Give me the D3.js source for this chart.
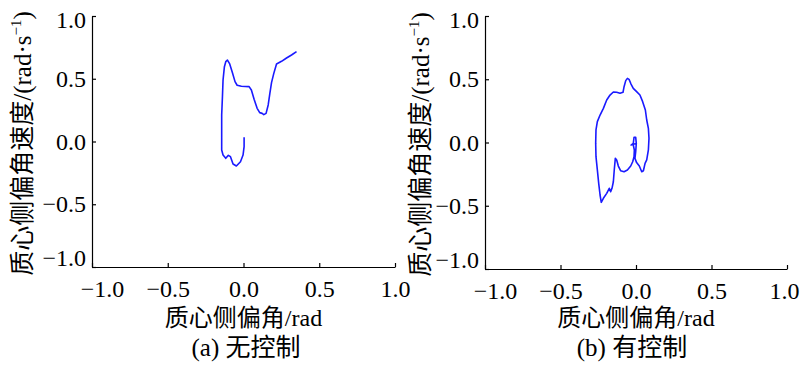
<!DOCTYPE html>
<html>
<head>
<meta charset="utf-8">
<title>Phase plane</title>
<script src="https://d3js.org/d3.v7.min.js"></script>
<style>
  body { margin: 0; background: #fff; }
  svg { display: block; }
</style>
</head>
<body>
<div id="chart"></div>
<script>
// tick values shared by both panels
const ticks = [-1.0, -0.5, 0.0, 0.5, 1.0];

// (a) 无控制: sideslip angle (rad) vs sideslip rate (rad/s)
const betaNoCtrl = [0.004, 0.004, -0.003, -0.020, -0.047, -0.069, -0.086, -0.100, -0.117, -0.135,
  -0.144, -0.144, -0.144, -0.139, -0.135, -0.126, -0.117, -0.106, -0.091, -0.073,
  -0.056, -0.042, -0.014, 0.037, 0.052, 0.070, 0.090, 0.107, 0.123, 0.134,
  0.149, 0.163, 0.174, 0.185, 0.200, 0.218, 0.251, 0.284, 0.317, 0.350];
const rateNoCtrl = [0.033, -0.041, -0.108, -0.161, -0.195, -0.179, -0.121, -0.110, -0.134, -0.108,
  -0.068, 0.065, 0.211, 0.357, 0.490, 0.596, 0.636, 0.649, 0.618, 0.548,
  0.477, 0.448, 0.440, 0.437, 0.410, 0.336, 0.264, 0.230, 0.224, 0.214,
  0.224, 0.291, 0.384, 0.469, 0.543, 0.618, 0.639, 0.665, 0.689, 0.716];

// (b) 有控制
const betaCtrl = [0.000, -0.033, -0.018, -0.013, -0.002, 0.002, -0.002, -0.007, 0.004, 0.022,
  0.038, 0.049, 0.060, 0.071, 0.082, 0.086, 0.082, 0.071, 0.062, 0.044,
  0.026, 0.004, -0.018, -0.033, -0.046, -0.057, -0.068, -0.079, -0.086, -0.106,
  -0.128, -0.150, -0.172, -0.194, -0.216, -0.238, -0.256, -0.265, -0.267, -0.265,
  -0.256, -0.247, -0.238, -0.230, -0.216, -0.194, -0.177, -0.168, -0.159, -0.150,
  -0.144, -0.137, -0.128, -0.117, -0.102, -0.079, -0.057, -0.035, -0.022, -0.013,
  -0.011, -0.018];
const rateCtrl = [-0.007, -0.020, -0.007, 0.041, 0.041, -0.007, -0.072, -0.125, -0.159, -0.186,
  -0.231, -0.223, -0.165, -0.138, -0.059, 0.033, 0.112, 0.178, 0.257, 0.323,
  0.375, 0.402, 0.428, 0.462, 0.499, 0.507, 0.489, 0.441, 0.397, 0.389,
  0.397, 0.399, 0.375, 0.336, 0.270, 0.217, 0.165, 0.099, -0.007, -0.112,
  -0.217, -0.323, -0.415, -0.473, -0.441, -0.402, -0.362, -0.389, -0.362, -0.310,
  -0.217, -0.125, -0.138, -0.186, -0.223, -0.231, -0.217, -0.186, -0.152, -0.112,
  -0.059, -0.020];

const xTitle = "质心侧偏角/rad";
const captions = ["(a) 无控制", "(b) 有控制"];

const FONT = "'Liberation Serif', 'Times New Roman', 'Noto Sans CJK SC', serif";
const width = 800, height = 366;
const svg = d3.select("#chart").append("svg")
    .attr("width", width).attr("height", height);

let panels = [
  { x0: 92, x1: 395, y0: 267, y1: 16, ylab: 31, capx: 246, beta: betaNoCtrl, rate: rateNoCtrl, cap: captions[0] },
  { x0: 485, x1: 787, y0: 269, y1: 16, ylab: 429, capx: 632, beta: betaCtrl, rate: rateCtrl, cap: captions[1] }
];

const fmt = d3.format(".1f");

panels.forEach(function(p, k) {
  let x = d3.scaleLinear().domain([-1, 1]).range([p.x0, p.x1]);
  let y = d3.scaleLinear().domain([-1, 1]).range([p.y0, p.y1]);

  // axes, ticks pointing inward
  let gx = svg.append("g")
      .attr("transform", "translate(0," + p.y0 + ")")
      .call(d3.axisBottom(x).tickValues(ticks).tickFormat(fmt)
            .tickSizeInner(-4).tickSizeOuter(0).tickPadding(13));
  let gy = svg.append("g")
      .attr("transform", "translate(" + p.x0 + ",0)")
      .call(d3.axisLeft(y).tickValues(ticks).tickFormat(fmt)
            .tickSizeInner(-4).tickSizeOuter(0).tickPadding(6));

  [gx, gy].forEach(function(g) {
    g.attr("font-family", FONT).attr("font-size", 24);
    g.selectAll("text").style("font-family", FONT).style("font-size", "24px").attr("fill", "#000");
    g.selectAll("path, line").attr("stroke", "#000").attr("stroke-width", 1.2);
  });
  // corner labels are pushed apart so they do not collide
  gx.selectAll("text").filter(d => d === -1).attr("dx", 10);
  gy.selectAll("text").filter(d => d === -1).attr("dy", "-0.05em");
  gy.selectAll("text").filter(d => d === 1).attr("dy", "0.48em");
  // the right panel's last label sits at the page edge
  if (k === 1) gx.selectAll("text").filter(d => d === 1).attr("dx", -3);

  // trajectory
  let pts = p.beta.map(function(b, i) { return [b, p.rate[i]]; });
  svg.append("path")
      .datum(pts)
      .attr("fill", "none")
      .attr("stroke", "#1a1aff")
      .attr("stroke-width", 1.6)
      .attr("stroke-linejoin", "round")
      .attr("d", d3.line().x(d => x(d[0])).y(d => y(d[1])));

  // y title with superscript
  let yt = svg.append("text")
      .attr("transform", "translate(" + p.ylab + "," + ((p.y0 + p.y1) / 2 + 2) + ") rotate(-90)")
      .attr("text-anchor", "middle")
      .style("font-family", FONT)
      .style("font-size", "25px");
  yt.append("tspan").text("质心侧偏角速度/(rad·s");
  yt.append("tspan").attr("dy", -10).style("font-size", "15px").text("−1");
  yt.append("tspan").attr("dy", 10).text(")");

  // x title and caption
  svg.append("text")
      .attr("x", (p.x0 + p.x1) / 2).attr("y", 326)
      .attr("text-anchor", "middle")
      .style("font-family", FONT)
      .style("font-size", "24px")
      .text(xTitle);
  svg.append("text")
      .attr("x", p.capx).attr("y", 356)
      .attr("text-anchor", "middle")
      .style("font-family", FONT)
      .style("font-size", "25px")
      .text(p.cap);
});
</script>
</body>
</html>
